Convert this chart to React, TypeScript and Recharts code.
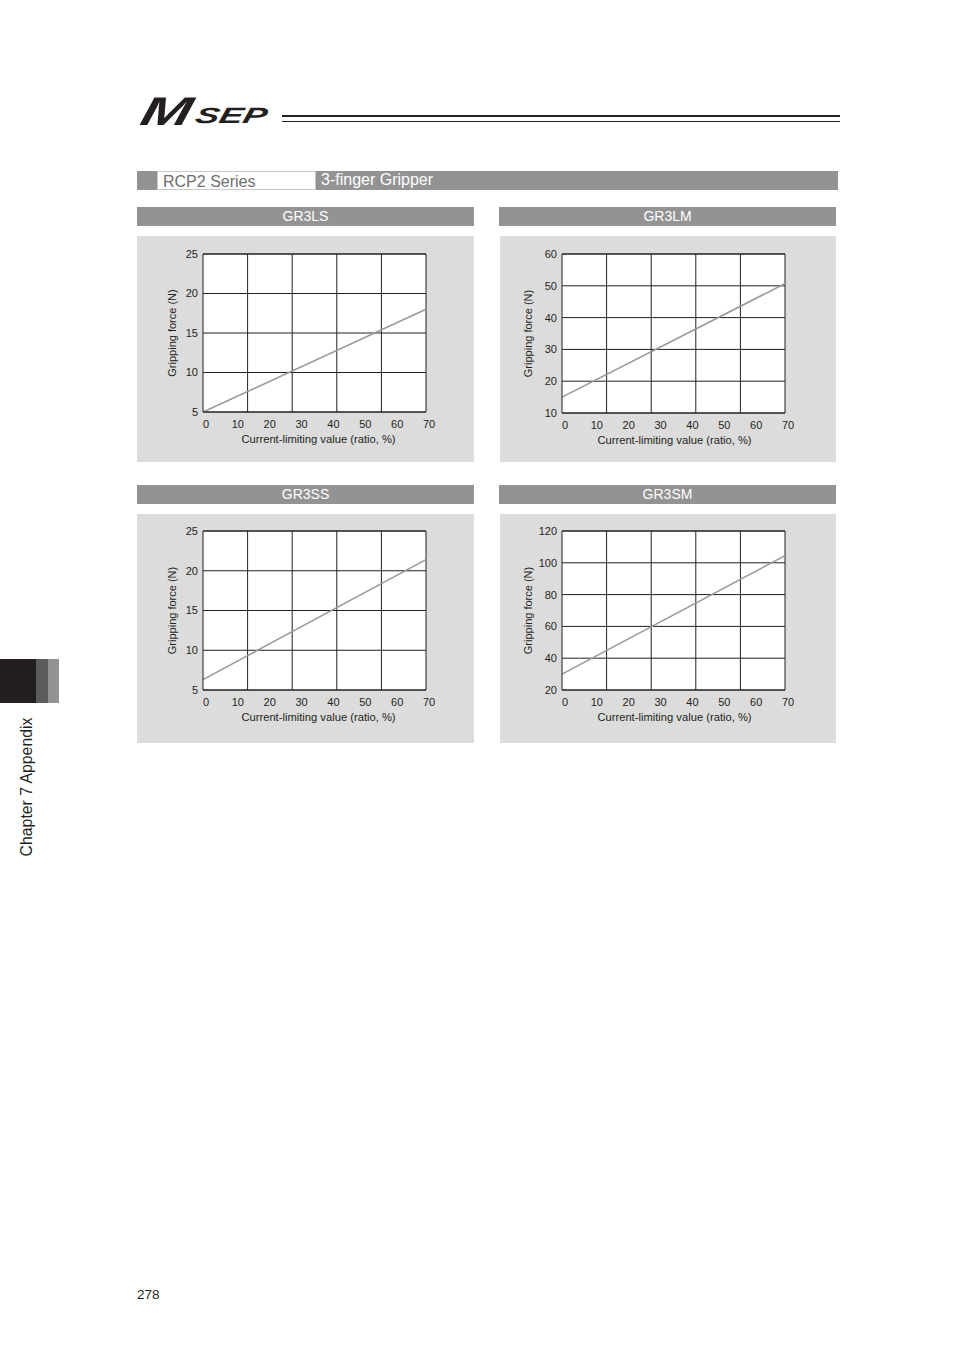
import React from 'react'
import {
  CartesianGrid,
  Label,
  Line,
  LineChart,
  ReferenceLine,
  XAxis,
  YAxis,
} from 'recharts'

// current-limiting value (ratio, %)
const currentLimit = [0, 70]
const xTicks = [0, 10, 20, 30, 40, 50, 60, 70]
// the grid has 5 columns, not one per tick
const gridX = [14, 28, 42, 56, 70]

const gr3lsForce = [5, 18]
const gr3lmForce = [15, 50.7]
const gr3ssForce = [6.3, 21.4]
const gr3smForce = [30, 104.5]

const gr3lsTicks = [5, 10, 15, 20, 25]
const gr3lmTicks = [10, 20, 30, 40, 50, 60]
const gr3ssTicks = [5, 10, 15, 20, 25]
const gr3smTicks = [20, 40, 60, 80, 100, 120]

const INK = '#231f20'
const BAR = '#939393'
const PANEL = '#dcdcdc'
const FONT = '"Liberation Sans", Arial, sans-serif'

const toRows = (force: number[]) =>
  currentLimit.map((x, i) => ({ x, force: force[i] }))

type ChartProps = {
  title: string
  force: number[]
  yTicks: number[]
  left: number
  top: number
  width: number
  height: number
  plotLeft: number
  plotTop: number
  plotH: number
  headerLeft: number
  headerTop: number
  yLabelX: number
  xLabelDx: number
}

function GripperChart(p: ChartProps) {
  const plotW = 223
  const rows = toRows(p.force)
  const yMin = p.yTicks[0]
  const yMax = p.yTicks[p.yTicks.length - 1]
  return (
    <>
      <div
        style={{
          position: 'absolute',
          left: p.headerLeft,
          top: p.headerTop,
          width: 337,
          height: 19,
          background: BAR,
          color: '#fff',
          fontSize: 14,
          lineHeight: '19px',
          textAlign: 'center',
        }}
      >
        {p.title}
      </div>
      <div
        style={{
          position: 'absolute',
          left: p.left,
          top: p.top,
          width: p.width,
          height: p.height,
          background: PANEL,
        }}
      >
        <LineChart
          width={p.width}
          height={p.height}
          data={rows}
          margin={{ top: p.plotTop, right: p.width - p.plotLeft - plotW, left: 0, bottom: 0 }}
        >
          <CartesianGrid
            vertical={false}
            stroke={INK}
            strokeOpacity={1}
            fill="#fff"
            fillOpacity={1}
          />
          <XAxis
            dataKey="x"
            type="number"
            domain={[0, 70]}
            ticks={xTicks}
            interval={0}
            height={p.height - p.plotTop - p.plotH}
            tickLine={false}
            tickSize={0}
            tickMargin={8}
            axisLine={{ stroke: INK }}
            tick={{ fontSize: 11, fill: INK, dx: 3, fontFamily: FONT }}
          >
            <Label
              value="Current-limiting value (ratio, %)"
              position="insideTop"
              offset={23}
              dx={p.xLabelDx}
              style={{ fontSize: 11.2, fill: INK, fontFamily: FONT }}
            />
          </XAxis>
          <YAxis
            type="number"
            domain={[yMin, yMax]}
            ticks={p.yTicks}
            interval={0}
            width={p.plotLeft}
            tickLine={false}
            tickSize={0}
            tickMargin={5}
            axisLine={{ stroke: INK }}
            tick={{ fontSize: 11, fill: INK, fontFamily: FONT }}
          >
            <Label
              value="Gripping force (N)"
              angle={-90}
              position="insideLeft"
              offset={p.yLabelX}
              style={{ fontSize: 11, fill: INK, fontFamily: FONT, textAnchor: 'middle' }}
            />
          </YAxis>
          <ReferenceLine y={yMax} stroke={INK} strokeWidth={1} />
          {gridX.map((gx) => (
            <ReferenceLine key={gx} x={gx} stroke={INK} strokeWidth={1} />
          ))}
          <Line
            dataKey="force"
            stroke="#9a9a9a"
            strokeWidth={1.6}
            dot={false}
            isAnimationActive={false}
          />
        </LineChart>
      </div>
    </>
  )
}

export default function App() {
  return (
    <div
      style={{
        position: 'absolute',
        left: 0,
        top: 0,
        width: 954,
        height: 1350,
        background: '#fff',
        fontFamily: FONT,
        color: INK,
        overflow: 'hidden',
      }}
    >
      {/* logo and rule */}
      <div
        style={{
          position: 'absolute',
          left: 137,
          top: 91,
          fontSize: 40,
          fontWeight: 'bold',
          fontStyle: 'italic',
          transform: 'skewX(-14deg) scaleX(1.5)',
          transformOrigin: 'left bottom',
          lineHeight: '40px',
        }}
      >
        M
      </div>
      <div
        style={{
          position: 'absolute',
          left: 193,
          top: 105,
          fontSize: 22,
          fontWeight: 'bold',
          fontStyle: 'italic',
          transform: 'skewX(-14deg) scaleX(1.62)',
          transformOrigin: 'left bottom',
          lineHeight: '22px',
        }}
      >
        SEP
      </div>
      <div style={{ position: 'absolute', left: 282, top: 115, width: 558, height: 2, background: INK }} />
      <div style={{ position: 'absolute', left: 282, top: 121, width: 558, height: 1, background: INK }} />

      {/* series bar */}
      <div style={{ position: 'absolute', left: 137, top: 171, width: 701, height: 19, background: BAR }} />
      <div
        style={{
          position: 'absolute',
          left: 157,
          top: 171,
          width: 159,
          height: 19,
          background: '#fff',
          border: '1px solid #c8c8c8',
          color: '#6e6e6e',
          fontSize: 16,
          lineHeight: '19px',
          paddingLeft: 5,
          boxSizing: 'border-box',
        }}
      >
        RCP2 Series
      </div>
      <div
        style={{
          position: 'absolute',
          left: 321,
          top: 171,
          color: '#fff',
          fontSize: 16,
          lineHeight: '17px',
        }}
      >
        3-finger Gripper
      </div>

      <GripperChart
        title="GR3LS"
        force={gr3lsForce}
        yTicks={gr3lsTicks}
        headerLeft={137}
        headerTop={207}
        left={137}
        top={236}
        width={337}
        height={226}
        plotLeft={66}
        plotTop={18}
        plotH={158}
        yLabelX={35}
        xLabelDx={4}
      />
      <GripperChart
        title="GR3LM"
        force={gr3lmForce}
        yTicks={gr3lmTicks}
        headerLeft={499}
        headerTop={207}
        left={500}
        top={236}
        width={336}
        height={226}
        plotLeft={62}
        plotTop={18}
        plotH={159}
        yLabelX={28}
        xLabelDx={1}
      />
      <GripperChart
        title="GR3SS"
        force={gr3ssForce}
        yTicks={gr3ssTicks}
        headerLeft={137}
        headerTop={485}
        left={137}
        top={514}
        width={337}
        height={229}
        plotLeft={66}
        plotTop={17}
        plotH={159}
        yLabelX={35}
        xLabelDx={4}
      />
      <GripperChart
        title="GR3SM"
        force={gr3smForce}
        yTicks={gr3smTicks}
        headerLeft={499}
        headerTop={485}
        left={500}
        top={514}
        width={336}
        height={229}
        plotLeft={62}
        plotTop={17}
        plotH={159}
        yLabelX={28}
        xLabelDx={1}
      />

      {/* chapter tab */}
      <div style={{ position: 'absolute', left: 0, top: 659, width: 36, height: 44, background: INK }} />
      <div style={{ position: 'absolute', left: 36, top: 659, width: 12, height: 44, background: '#5b5b5b' }} />
      <div style={{ position: 'absolute', left: 48, top: 659, width: 11, height: 44, background: BAR }} />
      <div
        style={{
          position: 'absolute',
          left: 27,
          top: 787,
          fontSize: 15.8,
          whiteSpace: 'nowrap',
          transform: 'translate(-50%, -50%) rotate(-90deg)',
        }}
      >
        Chapter 7 Appendix
      </div>

      <div style={{ position: 'absolute', left: 137, top: 1287, fontSize: 13.5 }}>278</div>
    </div>
  )
}
